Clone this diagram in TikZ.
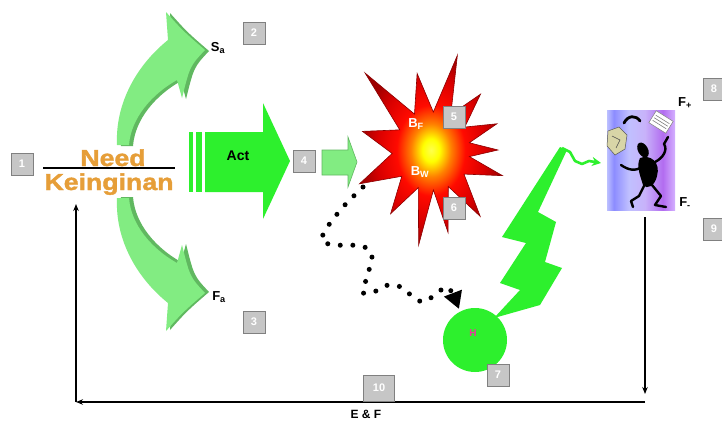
\documentclass[tikz,border=0pt]{standalone}
\usepackage{fontspec}
\setmainfont{Liberation Sans}
\newfontfamily\widefont{Liberation Sans}[FakeStretch=1.16, BoldFeatures={FakeBold=1.6}]
\usetikzlibrary{arrows.meta}

\definecolor{needorange}{RGB}{230,158,56}
\definecolor{actgreen}{RGB}{45,240,45}
\definecolor{palegreen}{RGB}{130,236,130}
\definecolor{shadegreen}{RGB}{96,184,96}
\definecolor{tagfill}{RGB}{198,198,198}
\definecolor{tagline}{RGB}{128,128,128}
\definecolor{jgA}{RGB}{188,192,255}
\definecolor{jgB}{RGB}{140,140,255}
\definecolor{jgC}{RGB}{192,192,255}
\definecolor{jgD}{RGB}{200,178,250}
\definecolor{jgE}{RGB}{178,108,240}
\definecolor{jgF}{RGB}{212,176,255}

% explosion: yellow core fading through orange into dark red
\pgfdeclareradialshading{burst}{\pgfpoint{0bp}{0bp}}{%
  color(0bp)=(yellow!70!white); color(3bp)=(yellow); color(7bp)=(orange);
  color(12bp)=(red!92!orange); color(19bp)=(red!85!black);
  color(25bp)=(red!62!black); color(50bp)=(red!62!black)}
% backdrop of the juggler picture
\pgfdeclarehorizontalshading{jugglebg}{100bp}{%
  color(0bp)=(jgA); color(25bp)=(jgA); color(30bp)=(jgB); color(41bp)=(jgC);
  color(53bp)=(jgD); color(66bp)=(jgE); color(75bp)=(jgF); color(100bp)=(jgF)}

% curved green arrow (upper one; the lower one is its mirror image)
\newcommand\bendshape{(117,145) .. controls (115,102) and (138,64) .. (168,40)
  -- (166,12) .. controls (183,31) .. (205,50) .. controls (190,66) .. (182,98)
  -- (177,80) .. controls (152,94) and (131,118) .. (129,145) -- cycle}

\begin{document}
\begin{tikzpicture}[x=1pt,y=-1pt,
  tag/.style={draw=tagline, fill=tagfill, line width=0.8pt, minimum width=22pt,
    minimum height=22pt, inner sep=0pt, text=white,
    font=\bfseries\fontsize{11}{11}\selectfont},
  needtext/.style={font=\widefont\bfseries\fontsize{23}{23}\selectfont,
    text=needorange, inner sep=0pt, anchor=base},
  lbl/.style={font=\bfseries\fontsize{13}{13}\selectfont, inner sep=0pt},
  burstlbl/.style={lbl, text=white},
  fb/.style={line width=1.5pt, -{Stealth[length=7pt,width=5.5pt]}},
  dotline/.style={line width=5pt, line cap=round, dash pattern=on 0pt off 12.6pt,
    -{Triangle[length=17pt,width=18pt]}},
  figline/.style={line width=2.4pt, line cap=round, line join=round}]

\useasboundingbox (0,0) rectangle (722,423);
\fill[white] (0,0) rectangle (722,423);

% ---- curved arrows towards S_a and F_a
\fill[shadegreen, shift={(4,1)}] \bendshape;
\fill[palegreen] \bendshape;
\begin{scope}[shift={(0,343)}, yscale=-1]
  \fill[shadegreen, shift={(4,1)}] \bendshape;
  \fill[palegreen] \bendshape;
\end{scope}

% ---- need / keinginan fraction
\node[needtext] (need) at (113,166) {Need};
\node[needtext] (want) at (109,190) {Keinginan};
\draw[line width=1.6pt] (43,168) -- (175,168);

\node[lbl] (sa) at (218,48) {S\textsubscript{a}};
\node[lbl] (fa) at (219,297) {F\textsubscript{a}};

% ---- Act arrow
\fill[actgreen] (189,132) rectangle (193,192);
\fill[actgreen] (196,132) rectangle (202,192);
\fill[actgreen] (205,132) -- (263,132) -- (263,103) -- (290,161)
  -- (263,219) -- (263,192) -- (205,192) -- cycle;
\node[lbl, font=\bfseries\fontsize{14}{14}\selectfont] (act) at (238,156) {Act};

% ---- small arrow into the explosion
\draw[draw=shadegreen, fill=palegreen, line width=0.6pt]
  (322,150) -- (348,150) -- (348,137) -- (357,162) -- (348,187)
  -- (348,175) -- (322,175) -- cycle;

% ---- explosion
\begin{scope}[shift={(432,150)}]
  \shadedraw[shading=burst, draw=red!55!black, line width=0.6pt]
    (-165:72) -- (-148:38) -- (-131:102) -- (-116:40) -- (-101:78) -- (-88:38)
    -- (-75:98) -- (-62:40) -- (-49:74) -- (-35:40) -- (-22:70) -- (-11:38)
    -- (0:66) -- (10:38) -- (20:75) -- (37:40) -- (54:82) -- (66:40)
    -- (79:84) -- (88:40) -- (98:96) -- (110:40) -- (123:76) -- (139:40)
    -- (155:80) -- (175:40) -- cycle;
\end{scope}
\node[burstlbl] (bf) at (416,124) {B\textsubscript{F}};
\node[burstlbl] (bw) at (420,172) {B\textsubscript{W}};

% ---- H circle
\node[circle, fill=actgreen, minimum size=64pt, inner sep=0pt] (hcirc) at (475,340) {};
\node[font=\bfseries\fontsize{10}{10}\selectfont, text=magenta!80!white, inner sep=0pt]
  (hlbl) at (473,333) {H};

% ---- dotted path from the explosion to H
\coordinate (dotstart) at (363,187);
\coordinate (dotend) at (459,309);
\draw[dotline] plot[smooth, tension=0.5] coordinates {(dotstart) (343,207)
  (326,229) (322,241) (335,245) (362,246) (372,256) (366,280) (363,293)
  (376,291) (388,285) (401,287) (412,296) (423,302) (435,295) (448,287) (dotend)};

% ---- lightning bolt and squiggle arrow
\fill[actgreen] (560,147) -- (502,237) -- (526,243) -- (500,283) -- (520,290)
  -- (494,318) -- (540,305) -- (562,268) -- (545,262) -- (556,222)
  -- (538,212) -- (567,150) -- cycle;
\coordinate (bolttop) at (562,148);
\coordinate (squigend) at (601,163);
\draw[actgreen, line width=2.6pt, line join=round, -{Stealth[length=9pt,width=9pt]}]
  (bolttop) -- (570,152) -- (575,161) -- (582,164) -- (589,161) -- (squigend);

% ---- juggler picture
\node[shade, shading=jugglebg, minimum width=68pt, minimum height=100pt,
  inner sep=0pt] (jug) at (641,160) {};
% crumpled paper
\draw[fill=gray!35!olive!35, draw=gray!70!black, line width=0.5pt]
  (608,131) -- (619,127) -- (627,135) -- (625,149) -- (615,155) -- (607,146) -- cycle;
\draw[gray!60!black, line width=0.5pt] (612,136) -- (620,140) -- (616,148);
% paper stack
\begin{scope}[rotate around={-32:(661,122)}]
  \draw[fill=white, draw=gray, line width=0.5pt] (651,115) rectangle (671,129);
  \draw[gray, line width=0.6pt] (653,119) -- (669,119) (653,122) -- (669,122)
    (653,125) -- (669,125);
\end{scope}
% telephone receiver
\draw[figline, line width=2.8pt] (624,123) .. controls (628,115) and (636,115) .. (640,121);
% dancer
\fill[black, rotate around={28:(643,150)}] (643,150) ellipse (5 and 8);
\fill[black] (640,158) .. controls (650,154) and (661,162) .. (657,176)
  .. controls (655,186) and (647,190) .. (643,185)
  .. controls (640,175) and (636,166) .. (640,158) -- cycle;
\draw[figline] (655,162) .. controls (663,158) and (668,150) .. (664,144) -- (668,137);
\draw[figline] (643,166) .. controls (636,172) and (628,170) .. (621,165);
\draw[figline] (645,184) -- (639,196) -- (631,201) -- (633,207);
\draw[figline] (652,185) -- (661,196) -- (655,205) -- (666,207);

\node[lbl] (fplus) at (685,103) {F\textsubscript{+}};
\node[lbl] (fminus) at (685,203) {F\textsubscript{-}};

% ---- feedback loop
\coordinate (jugfoot) at (645,217);
\coordinate (loopR) at (645,394);
\coordinate (loopRb) at (645,402);
\coordinate (loopL) at (76,402);
\coordinate (loopTop) at (76,204);
\draw[fb] (jugfoot) -- (loopR);
\draw[fb] (loopRb) -- (loopL);
\draw[fb] (loopL) -- (loopTop);
\node[lbl, font=\bfseries\fontsize{12}{12}\selectfont] (ef) at (366,414) {E \& F};

% ---- numbered tags
\node[tag] (t1) at (22,164) {1};
\node[tag] (t2) at (254,33) {2};
\node[tag] (t3) at (254,322) {3};
\node[tag] (t4) at (304,161) {4};
\node[tag] (t5) at (454,117) {5};
\node[tag] (t6) at (454,208) {6};
\node[tag] (t7) at (498,375) {7};
\node[tag] (t8) at (714,89) {8};
\node[tag] (t9) at (714,229) {9};
\node[tag, minimum width=31pt, minimum height=26pt] (t10) at (379,388) {10};
\end{tikzpicture}
\end{document}
